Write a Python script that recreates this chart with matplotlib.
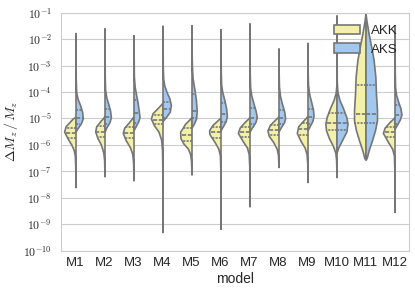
import numpy as np
import matplotlib
matplotlib.use("Agg")
import matplotlib.pyplot as plt
import seaborn as sns
from matplotlib.patches import Patch
from matplotlib.ticker import FixedLocator, FuncFormatter, NullLocator

sns.set_style("whitegrid")
plt.rcParams["font.family"] = ["Liberation Sans", "DejaVu Sans"]
plt.rcParams["mathtext.fontset"] = "cm"

models = ["M1", "M2", "M3", "M4", "M5", "M6", "M7", "M8", "M9", "M10", "M11", "M12"]
hues = ["AKK", "AKS"]

# violin outlines: log10(dMz/Mz) levels and half-widths (1 = widest)
akk_logs = [
    [-7.6, -6.8, -6.4, -6.2, -6.0, -5.75, -5.5, -5.3, -5.25, -5.0, -4.94],
    [-7.19, -6.6, -6.3, -6.0, -5.75, -5.5, -5.3, -5.1, -4.95, -4.9],
    [-7.34, -6.7, -6.35, -6.1, -5.8, -5.55, -5.35, -5.15, -4.97, -4.92],
    [-9.3, -7.0, -6.2, -5.8, -5.5, -5.25, -5.0, -4.8, -4.6, -4.45, -4.4],
    [-7.12, -6.6, -6.35, -6.15, -5.95, -5.75, -5.5, -5.35, -5.2, -5.05, -4.95],
    [-9.18, -7.0, -6.4, -6.15, -5.9, -5.6, -5.45, -5.25, -5.05, -4.97],
    [-8.33, -6.8, -6.35, -6.1, -5.85, -5.55, -5.35, -5.15, -5.0, -4.95],
    [-6.84, -6.4, -6.15, -5.9, -5.65, -5.45, -5.25, -5.05, -4.95, -4.92],
    [-7.41, -6.7, -6.35, -6.1, -5.85, -5.55, -5.3, -5.1, -4.95, -4.9],
    [-7.22, -6.6, -6.3, -6.05, -5.75, -5.45, -5.2, -4.95, -4.6, -4.3, -4.05, -3.8, -3.6],
    [-6.56, -6.5, -6.21, -5.83, -5.45, -5.07, -4.69, -4.05, -3.43, -2.79, -2.3, -1.77, -1.3, -1.02],
    [-8.54, -7.0, -6.4, -6.15, -5.9, -5.55, -5.35, -5.15, -5.0, -4.95],
]
akk_widths = [
    [0, 0.02, 0.06, 0.15, 0.35, 0.69, 0.98, 0.85, 0.75, 0.23, 0],
    [0, 0.03, 0.1, 0.3, 0.6, 0.8, 0.72, 0.35, 0.05, 0],
    [0, 0.03, 0.1, 0.3, 0.7, 0.92, 0.8, 0.4, 0.08, 0],
    [0, 0.01, 0.04, 0.12, 0.35, 0.75, 1.0, 0.85, 0.4, 0.08, 0],
    [0, 0.04, 0.12, 0.3, 0.7, 0.95, 0.98, 0.75, 0.55, 0.2, 0],
    [0, 0.01, 0.05, 0.18, 0.5, 0.95, 0.98, 0.7, 0.2, 0],
    [0, 0.02, 0.07, 0.22, 0.6, 1.0, 0.85, 0.45, 0.1, 0],
    [0, 0.04, 0.15, 0.45, 0.85, 0.95, 0.75, 0.3, 0.05, 0],
    [0, 0.02, 0.08, 0.25, 0.6, 0.92, 0.8, 0.4, 0.08, 0],
    [0, 0.03, 0.1, 0.3, 0.65, 0.9, 0.96, 0.85, 0.55, 0.25, 0.08, 0.02, 0],
    [0, 0.1, 0.27, 0.56, 0.82, 0.99, 0.99, 0.9, 0.85, 0.7, 0.5, 0.26, 0.08, 0],
    [0, 0.01, 0.05, 0.2, 0.55, 1.0, 0.85, 0.45, 0.1, 0],
]
aks_logs = [
    [-5.5, -5.375, -5.19, -5.0, -4.75, -4.5, -4.25, -4.0, -3.5, -1.77],
    [-5.5, -5.35, -5.15, -4.95, -4.7, -4.45, -4.2, -3.9, -3.4, -1.59],
    [-5.45, -5.3, -5.1, -4.95, -4.7, -4.4, -4.1, -3.8, -3.4, -1.85],
    [-5.1, -4.95, -4.75, -4.5, -4.25, -4.0, -3.75, -3.5, -3.0, -1.49],
    [-5.35, -5.2, -5.0, -4.7, -4.3, -3.9, -3.5, -3.1, -2.5, -1.47],
    [-5.45, -5.3, -5.1, -4.9, -4.6, -4.3, -4.0, -3.7, -3.2, -1.62],
    [-5.5, -5.35, -5.15, -4.95, -4.7, -4.4, -4.1, -3.8, -3.3, -1.40],
    [-5.5, -5.35, -5.15, -5.0, -4.75, -4.45, -4.15, -3.8, -3.2, -2.35],
    [-5.45, -5.3, -5.1, -4.9, -4.65, -4.35, -4.05, -3.7, -3.1, -2.14],
    [-6.3, -6.1, -5.8, -5.5, -5.2, -4.95, -4.6, -4.3, -4.0, -3.6, -1.1],
    [-6.56, -6.5, -6.21, -5.83, -5.45, -5.07, -4.69, -4.05, -3.43, -2.79, -2.3, -1.77, -1.3, -1.02],
    [-5.4, -5.25, -5.05, -4.85, -4.6, -4.35, -4.1, -3.8, -3.2, -1.47],
]
aks_widths = [
    [0, 0.17, 0.46, 0.63, 0.57, 0.4, 0.17, 0.06, 0.02, 0],
    [0, 0.15, 0.42, 0.55, 0.48, 0.32, 0.15, 0.05, 0.02, 0],
    [0, 0.18, 0.42, 0.52, 0.45, 0.35, 0.22, 0.1, 0.03, 0],
    [0, 0.3, 0.62, 0.72, 0.6, 0.35, 0.15, 0.06, 0.02, 0],
    [0, 0.2, 0.4, 0.45, 0.38, 0.25, 0.1, 0.04, 0.01, 0],
    [0, 0.2, 0.45, 0.55, 0.48, 0.33, 0.15, 0.05, 0.02, 0],
    [0, 0.2, 0.5, 0.63, 0.52, 0.32, 0.14, 0.05, 0.02, 0],
    [0, 0.18, 0.47, 0.57, 0.5, 0.3, 0.13, 0.04, 0.01, 0],
    [0, 0.18, 0.42, 0.52, 0.47, 0.3, 0.13, 0.04, 0.01, 0],
    [0, 0.15, 0.5, 0.85, 0.95, 0.85, 0.55, 0.25, 0.08, 0.02, 0],
    [0, 0.1, 0.27, 0.56, 0.82, 0.99, 0.99, 0.9, 0.85, 0.7, 0.5, 0.26, 0.08, 0],
    [0, 0.2, 0.45, 0.6, 0.5, 0.3, 0.13, 0.05, 0.02, 0],
]

# quartiles (log10): q1, median, q3
akk_quart = [
    [-5.73, -5.54, -5.35], [-5.69, -5.5, -5.28], [-5.75, -5.54, -5.31],
    [-5.2, -5.05, -4.88], [-5.85, -5.63, -5.38], [-5.73, -5.5, -5.31],
    [-5.69, -5.5, -5.31], [-5.63, -5.44, -5.25], [-5.63, -5.4, -5.19],
    [-5.44, -5.19, -4.81], [-5.16, -4.84, -3.74], [-5.69, -5.5, -5.31],
]
aks_quart = [
    [-5.22, -4.97, -4.69], [-5.21, -4.96, -4.65], [-5.19, -4.79, -4.31],
    [-4.97, -4.65, -4.38], [-5.0, -4.73, -4.09], [-5.15, -4.85, -4.4],
    [-5.2, -4.97, -4.6], [-5.22, -4.97, -4.69], [-5.22, -4.94, -4.63],
    [-5.44, -5.19, -4.81], [-5.16, -4.84, -3.74], [-5.22, -4.88, -4.5],
]

colors = {"AKK": "#f3f0a8", "AKS": "#a3c8f0"}
edge = "#767676"
half_width = 0.4

fig = plt.figure(figsize=(4.15, 2.92), dpi=100)
ax = fig.add_axes([61 / 415, 1 - 250.5 / 292, 348 / 415, 237.8 / 292])

sides = {"AKK": (-1, akk_logs, akk_widths, akk_quart),
         "AKS": (1, aks_logs, aks_widths, aks_quart)}
for hue in hues:
    side, all_logs, all_w, all_q = sides[hue]
    for i in range(len(models)):
        logs = np.array(all_logs[i])
        w = np.array(all_w[i]) * half_width
        ax.fill_betweenx(10.0 ** logs, i, i + side * w, facecolor=colors[hue],
                         edgecolor=edge, linewidth=1.2, zorder=2)
        for k, q in enumerate(all_q[i]):
            wq = np.interp(q, logs, w)
            dash = (2.5, 1) if k == 1 else (1.25, 0.75)
            ax.plot([i, i + side * wq], [10.0 ** q] * 2, color=edge, lw=1.2,
                    dashes=dash, zorder=3)

ax.set_yscale("log")
ax.set_ylim(1e-10, 1e-1)
ax.set_xlim(-0.5, len(models) - 0.5)
ax.yaxis.set_major_locator(FixedLocator([10.0 ** k for k in range(-10, 0)]))
ax.yaxis.set_minor_locator(NullLocator())
ax.yaxis.set_major_formatter(FuncFormatter(lambda v, p: r"$10^{%d}$" % round(np.log10(v))))
ax.set_xticks(range(len(models)))
ax.set_xticklabels(models)
ax.xaxis.grid(False)
ax.tick_params(axis="x", labelsize=9.5, pad=1.5)
ax.tick_params(axis="y", labelsize=8.5, pad=3)
ax.set_xlabel("model", fontsize=10, labelpad=2)
ax.set_ylabel(r"$\Delta M_z\,/\,M_z$", fontsize=10)
ax.yaxis.set_label_coords(-0.118, 0.5)

handles = [Patch(facecolor=colors[h], edgecolor=edge, linewidth=1.2, label=h) for h in hues]
ax.legend(handles=handles, loc="upper right", fontsize=9.5, frameon=False)

fig.savefig("out.png", dpi=100)
